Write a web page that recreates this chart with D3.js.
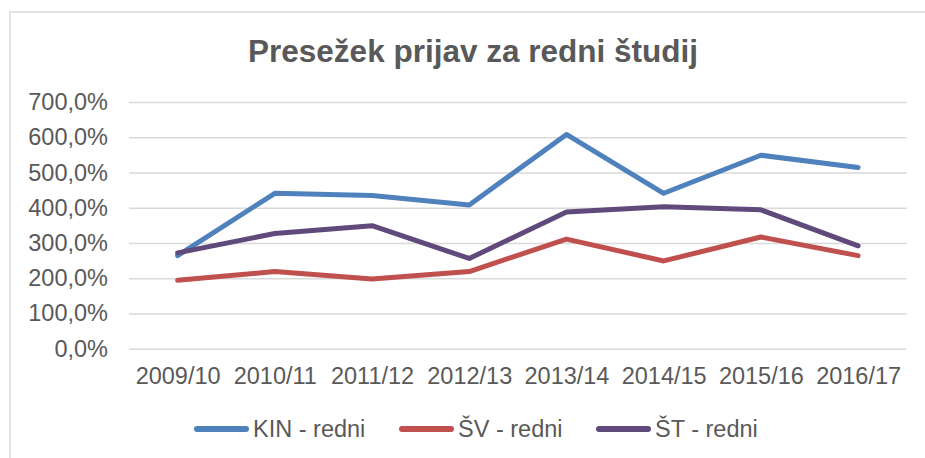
<!DOCTYPE html>
<html>
<head>
<meta charset="utf-8">
<script src="https://cdn.jsdelivr.net/npm/d3@7"></script>
<style>
  body { margin: 0; background: #fff; }
  svg text { font-family: "Liberation Sans", Arial, sans-serif; fill: #595959; }
</style>
</head>
<body>
<div class="container"></div>
<script>
var chartWidth = 925,
    chartHeight = 458;

var categories = ['2009/10', '2010/11', '2011/12', '2012/13', '2013/14', '2014/15', '2015/16', '2016/17'];
var seriesNames = ['KIN - redni', 'ŠV - redni', 'ŠT - redni'];
var kinValues = [264, 441, 435, 408, 608, 441, 549, 514];
var svValues  = [194, 219, 198, 219, 311, 249, 317, 264];
var stValues  = [272, 327, 349, 256, 388, 403, 394, 292];
var yTicks = [0, 100, 200, 300, 400, 500, 600, 700];

var colours = ['#4F81BD', '#C0504D', '#604A7B'];
var series = [kinValues, svValues, stValues];

var svg = d3.select('.container')
            .append('svg')
              .attr('xmlns', 'http://www.w3.org/2000/svg')
              .attr('width', chartWidth)
              .attr('height', chartHeight);

// chart frame (runs off the right and bottom edge like the original)
svg.append('rect')
    .attr('x', 10).attr('y', 12)
    .attr('width', 926).attr('height', 460)
    .attr('fill', '#fff')
    .attr('stroke', '#D9D9D9')
    .attr('stroke-width', 1.5);

svg.append('text')
    .attr('x', 473).attr('y', 62)
    .attr('text-anchor', 'middle')
    .style('font-size', '31.5px')
    .style('font-weight', 'bold')
    .text('Presežek prijav za redni študij');

var x = d3.scalePoint().domain(categories).range([129, 906.7]).padding(0.5);
var y = d3.scaleLinear().domain([0, 700]).range([348.7, 102]);

var fmt = function(d) { return d3.format('.1f')(d).replace('.', ',') + '%'; };

var yAxis = svg.append('g')
    .attr('transform', 'translate(129,0)')
    .call(d3.axisLeft(y).tickValues(yTicks).tickFormat(fmt)
            .tickSize(-(906.7 - 129)).tickPadding(21));
yAxis.select('.domain').remove();
yAxis.selectAll('.tick line').attr('stroke', '#D9D9D9').attr('stroke-width', 1.5);
yAxis.selectAll('.tick text').style('font-size', '23.5px').attr('fill', '#595959');

var xAxis = svg.append('g')
    .attr('transform', 'translate(0,348.7)')
    .call(d3.axisBottom(x).tickSize(0).tickPadding(19));
xAxis.select('.domain').remove();
xAxis.selectAll('.tick text').style('font-size', '23.5px').attr('fill', '#595959');

var line = d3.line()
    .x(function(d, i) { return x(categories[i]); })
    .y(function(d) { return y(d); });

svg.selectAll('path.series')
    .data(series)
    .enter().append('path')
      .attr('class', 'series')
      .attr('d', line)
      .attr('fill', 'none')
      .attr('stroke', function(d, i) { return colours[i]; })
      .attr('stroke-width', 5)
      .attr('stroke-linecap', 'round')
      .attr('stroke-linejoin', 'round');

// legend
var legendX = [194, 399, 596];
var legend = svg.selectAll('g.legend')
    .data(seriesNames)
    .enter().append('g')
      .attr('class', 'legend')
      .attr('transform', function(d, i) { return 'translate(' + legendX[i] + ',429)'; });

legend.append('line')
    .attr('x1', 3).attr('x2', 52)
    .attr('stroke', function(d, i) { return colours[i]; })
    .attr('stroke-width', 6)
    .attr('stroke-linecap', 'round');

legend.append('text')
    .attr('x', 59).attr('y', 8)
    .style('font-size', '23.5px')
    .text(function(d) { return d; });
</script>
</body>
</html>
